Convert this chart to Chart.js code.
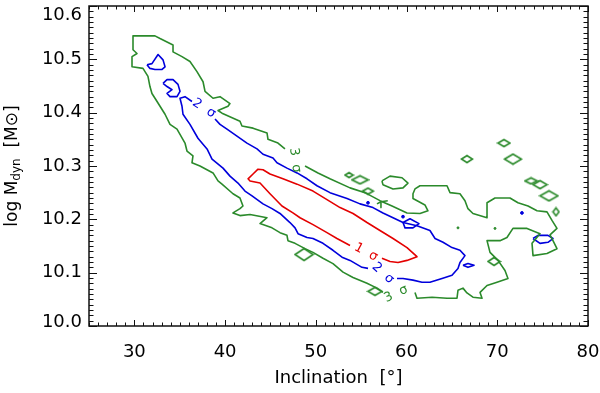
<!DOCTYPE html>
<html>
<head>
<meta charset="utf-8">
<script src="https://cdn.jsdelivr.net/npm/chart.js@4.4.1/dist/chart.umd.min.js"></script>
<style>
  html, body { margin: 0; padding: 0; background: #fff; }
</style>
</head>
<body>
<canvas id="myChart" width="600" height="393"></canvas>
<script>
// contour paths, [inclination, log Mdyn]
// 3 sigma (green), split where the labels sit
const green3A = [[48.81,10.300],[50.24,10.287],[51.56,10.276],[53.77,10.259],[55.42,10.250],[57.07,10.235],[58.40,10.225],[60.05,10.212],[61.48,10.211],[62.36,10.216],[62.03,10.227],[60.71,10.239],[60.71,10.248],[60.93,10.257],[61.48,10.263],[64.46,10.263],[64.79,10.250],[65.89,10.248],[66.44,10.235],[66.77,10.220],[67.32,10.211],[68.87,10.203],[68.87,10.222],[68.87,10.231],[69.75,10.240],[71.40,10.240],[72.28,10.231],[73.39,10.225],[74.38,10.216],[75.48,10.214],[76.03,10.198],[76.58,10.183],[75.81,10.171],[76.14,10.160],[76.58,10.145],[75.48,10.136],[73.94,10.132],[73.83,10.155],[74.71,10.173],[73.28,10.183],[71.73,10.183],[71.07,10.166],[70.30,10.160],[68.87,10.160],[69.20,10.138],[70.08,10.123],[70.85,10.104],[71.18,10.089],[69.97,10.082],[68.87,10.076],[68.10,10.063],[68.32,10.052],[67.32,10.054],[66.66,10.062],[66.22,10.071],[65.67,10.067],[65.56,10.052],[64.46,10.052],[62.81,10.054],[61.15,10.052],[60.93,10.063]];
const green3B = [[57.40,10.063],[56.74,10.071],[55.64,10.080],[54.10,10.091],[53.00,10.101],[51.89,10.117],[50.79,10.127],[49.69,10.138],[48.81,10.145],[47.71,10.155],[46.93,10.160],[46.82,10.170],[46.05,10.175],[45.17,10.184],[43.85,10.192],[44.62,10.203],[42.75,10.209],[41.64,10.207],[40.87,10.212],[41.64,10.220],[41.97,10.225],[41.64,10.240],[40.87,10.248],[39.66,10.266],[39.22,10.272],[38.67,10.287],[37.23,10.300],[36.35,10.306],[36.46,10.319],[35.80,10.328],[35.58,10.343],[34.70,10.369],[33.93,10.378],[33.38,10.397],[32.50,10.421],[31.94,10.436],[31.72,10.449],[31.50,10.468],[30.95,10.483],[29.74,10.486],[29.74,10.505],[30.29,10.511],[29.85,10.518],[29.85,10.544],[32.27,10.544],[32.83,10.539],[34.26,10.527],[34.26,10.514],[35.25,10.505],[36.13,10.496],[36.90,10.477],[37.57,10.458],[37.79,10.440],[38.67,10.427],[39.44,10.430],[40.54,10.417],[40.32,10.412],[39.22,10.404],[39.66,10.399],[41.64,10.384],[41.86,10.375],[43.08,10.371],[44.62,10.362],[44.73,10.350],[45.83,10.343],[46.60,10.332]];
const greenLoop = [[57.29,10.272],[58.18,10.281],[59.50,10.278],[60.16,10.268],[59.61,10.259],[58.51,10.257],[57.40,10.265],[57.29,10.272]];
const greenTee = [[56.74,10.229],[57.18,10.233],[57.18,10.222],[57.18,10.233],[57.93,10.235]];
const greenIslands = [[70.74,10.343],[66.66,10.313],[71.73,10.313],[73.72,10.272],[74.71,10.265],[75.70,10.244],[53.66,10.283],[54.87,10.274],[55.75,10.253],[48.70,10.134],[56.52,10.065],[69.64,10.121],[76.47,10.214]];
const greenDots = [[65.67,10.184],[69.75,10.183]];

// 2 sigma (blue)
const blue2A = [[38.89,10.388],[39.44,10.378],[40.21,10.369],[41.31,10.356],[42.41,10.343],[43.52,10.332],[44.18,10.322],[45.28,10.315],[45.72,10.306],[46.82,10.296],[47.93,10.287],[49.03,10.276],[50.13,10.263],[51.56,10.250],[53.44,10.239],[54.87,10.229],[56.30,10.222],[57.40,10.212],[58.51,10.203],[59.61,10.194],[61.15,10.188],[62.58,10.179],[63.14,10.164],[64.02,10.157],[65.01,10.147],[65.89,10.142],[66.44,10.132],[65.89,10.119],[65.67,10.108],[65.01,10.095],[63.91,10.089],[62.58,10.082],[61.70,10.082],[60.71,10.086],[59.61,10.089],[58.95,10.089]];
const blue2B = [[55.75,10.108],[55.09,10.110],[53.77,10.123],[52.89,10.129],[51.89,10.142],[50.79,10.155],[49.69,10.164],[49.03,10.166],[48.04,10.173],[47.71,10.184],[47.15,10.194],[46.05,10.211],[45.17,10.220],[44.18,10.229],[42.97,10.244],[42.19,10.253],[41.42,10.268],[40.54,10.281],[39.77,10.296],[38.56,10.313],[38.01,10.332],[37.01,10.352],[36.13,10.378],[35.36,10.397],[35.25,10.412],[35.03,10.427],[35.58,10.430],[36.35,10.421]];
const blueLoop1 = [[31.39,10.490],[31.94,10.492],[32.61,10.509],[33.16,10.499],[33.38,10.486],[33.05,10.481],[32.27,10.481],[31.72,10.483],[31.39,10.490]];
const blueLoop2 = [[33.16,10.455],[33.60,10.462],[34.26,10.462],[34.81,10.453],[35.03,10.440],[34.70,10.430],[33.93,10.430],[33.60,10.436],[34.15,10.443],[33.60,10.449],[33.16,10.455]];
const blueDiamond = [[59.61,10.194],[60.38,10.201],[61.37,10.192],[60.71,10.184],[59.83,10.184],[59.61,10.194]];
const blueLoopRight = [[73.94,10.164],[74.49,10.170],[75.59,10.170],[76.14,10.164],[75.59,10.157],[74.71,10.155],[73.94,10.164]];
const blueBlob = [[66.22,10.114],[66.77,10.117],[67.44,10.114],[66.77,10.110],[66.22,10.114]];
const blueDots = [[55.75,10.231],[59.61,10.205],[72.72,10.212]];

// 1 sigma (red)
const red1 = [[57.29,10.127],[58.18,10.121],[59.06,10.119],[60.05,10.123],[61.15,10.130],[60.05,10.147],[58.51,10.164],[57.07,10.179],[55.64,10.194],[54.10,10.211],[52.67,10.222],[51.23,10.237],[49.69,10.253],[47.93,10.266],[46.38,10.276],[44.95,10.285],[44.18,10.293],[43.63,10.294],[43.08,10.285],[42.53,10.276],[42.75,10.272],[43.85,10.268],[44.95,10.248],[46.27,10.225],[47.48,10.212],[48.26,10.203],[49.69,10.190],[51.23,10.175],[52.33,10.164],[53.77,10.151]];

// contour labels
const labelText = ['1  σ', '2  σ', '2  σ', '3  σ', '3  σ'];
const labelIncl = [55.53, 37.68, 57.40, 47.71, 58.84];
const labelLogM = [10.138, 10.408, 10.099, 10.311, 10.060];

const GREEN = '#2b8a2b';
const BLUE = '#0000dc';
const RED = '#e40000';
const FONT = '"DejaVu Sans", sans-serif';

function pts(arr) {
    return arr.map((p) => ({ x: p[0], y: p[1] }));
}

function contour(arr, color) {
    return {
        data: pts(arr),
        showLine: true,
        borderColor: color,
        borderWidth: 1.6,
        borderJoinStyle: 'round',
        pointRadius: 0,
        pointHoverRadius: 0,
        fill: false,
        tension: 0
    };
}

// flattened diamond marker for the single-cell islands
function diamond(w, h, color) {
    const c = document.createElement('canvas');
    c.width = w + 3;
    c.height = h + 3;
    const g = c.getContext('2d');
    g.strokeStyle = color;
    g.lineWidth = 1.6;
    g.beginPath();
    g.moveTo(1.5, c.height / 2);
    g.lineTo(c.width / 2, 1.5);
    g.lineTo(c.width - 1.5, c.height / 2);
    g.lineTo(c.width / 2, c.height - 1.5);
    g.closePath();
    g.stroke();
    return c;
}
const islandSizes = [[12,7],[11,7],[17,10],[12,6],[14,8],[18,10],[8,5],[16,8],[11,6],[18,12],[14,8],[12,8],[6,8]];
const islandMarks = islandSizes.map((s) => diamond(s[0], s[1], GREEN));

// frame, inward ticks on all sides, y labels/title, contour labels
const frameTicks = {
    id: 'frameTicks',
    afterDraw(chart) {
        const { ctx, chartArea: a, scales } = chart;
        const xs = scales.x;
        const ys = scales.y;
        ctx.save();
        ctx.strokeStyle = '#111';
        ctx.lineWidth = 1;
        ctx.beginPath();
        for (let v = 25; v <= 80; v++) {
            const px = Math.round(xs.getPixelForValue(v)) + 0.5;
            const len = v % 10 === 0 ? 6 : 3.5;
            ctx.moveTo(px, a.bottom);
            ctx.lineTo(px, a.bottom - len);
            ctx.moveTo(px, a.top);
            ctx.lineTo(px, a.top + len);
        }
        for (let i = 0; i <= 60; i++) {
            const py = Math.round(ys.getPixelForValue(10 + i / 100)) + 0.5;
            const len = i % 10 === 0 ? 8 : 4.5;
            ctx.moveTo(a.left, py);
            ctx.lineTo(a.left + len, py);
            ctx.moveTo(a.right, py);
            ctx.lineTo(a.right - len, py);
        }
        ctx.stroke();
        ctx.lineWidth = 1.5;
        ctx.strokeRect(a.left, a.top, a.right - a.left, a.bottom - a.top);

        // y tick labels (ends pulled inside the frame like the original)
        ctx.fillStyle = '#000';
        ctx.font = '18px ' + FONT;
        ctx.textAlign = 'right';
        ctx.textBaseline = 'middle';
        ys.ticks.forEach((t) => {
            let py = ys.getPixelForValue(t.value);
            py = Math.min(Math.max(py, a.top + 9), a.bottom - 4);
            ctx.fillText(t.value.toFixed(1), 82, py);
        });

        // y title with subscript
        ctx.save();
        ctx.translate(13, (a.top + a.bottom) / 2);
        ctx.rotate(-Math.PI / 2);
        const big = '17px ' + FONT;
        const small = '12px ' + FONT;
        const parts = [['log M', big, 0], ['dyn', small, 4], ['  [M\u2299]', big, 0]];
        let total = 0;
        parts.forEach((p) => { ctx.font = p[1]; total += ctx.measureText(p[0]).width; });
        let cx = -total / 2;
        ctx.textAlign = 'left';
        parts.forEach((p) => {
            ctx.font = p[1];
            ctx.fillText(p[0], cx, p[2]);
            cx += ctx.measureText(p[0]).width;
        });
        ctx.restore();

        // contour labels along the lines
        const rot = [28, 33, 42, 82, -25];
        const col = [RED, BLUE, BLUE, GREEN, GREEN];
        ctx.font = '13px ' + FONT;
        ctx.textAlign = 'center';
        labelText.forEach((txt, i) => {
            ctx.save();
            ctx.translate(xs.getPixelForValue(labelIncl[i]), ys.getPixelForValue(labelLogM[i]));
            ctx.rotate(rot[i] * Math.PI / 180);
            ctx.fillStyle = col[i];
            ctx.fillText(txt, 0, 0);
            ctx.restore();
        });
        ctx.restore();
    }
};

const datasets = [
    contour(green3A, GREEN),
    contour(green3B, GREEN),
    contour(greenLoop, GREEN),
    contour(greenTee, GREEN),
    contour(blue2A, BLUE),
    contour(blue2B, BLUE),
    contour(blueLoop1, BLUE),
    contour(blueLoop2, BLUE),
    contour(blueDiamond, BLUE),
    contour(blueLoopRight, BLUE),
    contour(blueBlob, BLUE),
    contour(red1, RED),
    {
        data: pts(greenIslands),
        showLine: false,
        pointRadius: 5,
        pointStyle: (c) => islandMarks[c.dataIndex],
        borderColor: GREEN
    },
    {
        data: pts(greenDots),
        showLine: false,
        pointRadius: 1,
        backgroundColor: GREEN,
        borderColor: GREEN
    },
    {
        data: pts(blueDots),
        showLine: false,
        pointRadius: 1.4,
        backgroundColor: BLUE,
        borderColor: BLUE
    }
];

const chartElement = document.getElementById('myChart').getContext('2d');
window.myChart = new Chart(chartElement, {
    type: 'scatter',
    data: { datasets: datasets },
    options: {
        responsive: false,
        devicePixelRatio: 1,
        animation: false,
        layout: { padding: { top: 4, right: 12, left: 0, bottom: 0 } },
        plugins: {
            legend: { display: false },
            tooltip: { enabled: false }
        },
        scales: {
            x: {
                type: 'linear',
                position: 'bottom',
                min: 25,
                max: 80,
                grid: { display: false, drawTicks: false },
                border: { display: false },
                ticks: {
                    stepSize: 10,
                    includeBounds: false,
                    maxRotation: 0,
                    padding: 16,
                    color: '#000',
                    font: { family: FONT, size: 18 },
                    callback: (v) => v.toFixed(0)
                },
                title: {
                    display: true,
                    text: 'Inclination  [°]',
                    color: '#000',
                    font: { family: FONT, size: 18 },
                    padding: { top: 0, bottom: 4 }
                },
                afterFit(s) {
                    s.height = 67;
                    s.paddingLeft = 0;
                    s.paddingRight = 0;
                }
            },
            y: {
                type: 'linear',
                min: 10.0,
                max: 10.6,
                grid: { display: false, drawTicks: false },
                border: { display: false },
                ticks: { display: false, stepSize: 0.1 },
                afterFit(s) {
                    s.width = 89;
                    s.paddingTop = 0;
                    s.paddingBottom = 0;
                }
            }
        }
    },
    plugins: [frameTicks]
});
</script>
</body>
</html>
